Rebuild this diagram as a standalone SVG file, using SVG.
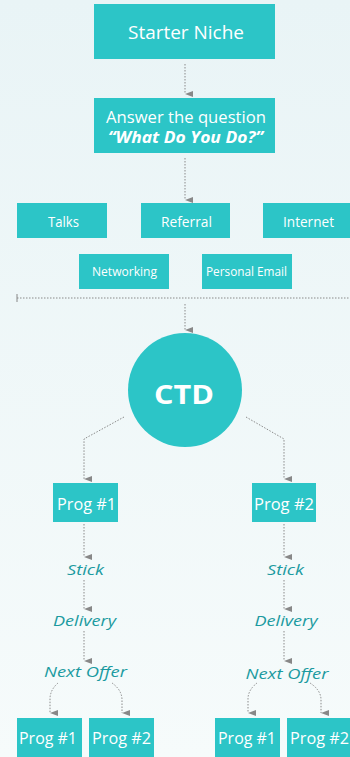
<svg xmlns="http://www.w3.org/2000/svg" width="350" height="757" viewBox="0 0 350 757">
<defs>
<linearGradient id="bg" x1="0" y1="0" x2="0" y2="1">
<stop offset="0" stop-color="#e9f4f6"/>
<stop offset="1" stop-color="#f6fbfb"/>
</linearGradient>
<marker id="ah" markerUnits="userSpaceOnUse" markerWidth="6" markerHeight="8" viewBox="0 0 6 8" refX="3" refY="8" orient="auto-start-reverse">
<path d="M0,0 L6,0 L3,8 Z" fill="#888"/>
</marker>
<style>
.box{fill:#2cc5c7}
.t{font-family:"Open Sans","Liberation Sans",sans-serif;fill:#fff;text-anchor:middle}
.it{font-family:"Open Sans","Liberation Sans",sans-serif;fill:#1b9aa0;font-style:italic;text-anchor:middle;font-size:15px}
.c{fill:none;stroke:#8a8a8a;stroke-width:1;stroke-dasharray:1.5 1.5}
.ca{fill:none;stroke:#8a8a8a;stroke-width:1;stroke-dasharray:1.5 1.5;marker-end:url(#ah)}
</style>
</defs>
<rect width="350" height="757" fill="url(#bg)"/>
<g id="connectors">
<path class="ca" d="M185,64 V94"/>
<path class="ca" d="M185,158 V200"/>
<path class="c" d="M17,298 H350"/>
<path d="M17,294 V302" stroke="#888" stroke-width="1"/>
<path class="ca" d="M185,304 V330"/>
<path class="ca" d="M124,417 L84,439 V479"/>
<path class="ca" d="M246,417 L284,439 V479"/>
<path class="ca" d="M84,524 V557"/>
<path class="ca" d="M84,580 V609"/>
<path class="ca" d="M84,631 V661"/>
<path class="ca" d="M284,524 V557"/>
<path class="ca" d="M284,580 V609"/>
<path class="ca" d="M284,631 V661"/>
<path class="ca" d="M58,683 Q50,690 50,699 V713"/>
<path class="ca" d="M112,683 Q122,690 122,700 V713"/>
<path class="ca" d="M257,683 Q248,690 248,699 V713"/>
<path class="ca" d="M310,683 Q321,690 321,700 V713"/>
</g>
<g id="starter-niche"><rect class="box" x="94" y="4" width="181" height="55"/><text class="t" x="186" y="39" font-size="18" textLength="116" lengthAdjust="spacingAndGlyphs">Starter Niche</text></g>
<g id="answer"><rect class="box" x="94" y="98" width="181" height="55"/><text class="t" x="186" y="123" font-size="15.5" textLength="160" lengthAdjust="spacingAndGlyphs">Answer the question</text><text class="t" x="185.5" y="143" font-size="15.5" font-weight="bold" font-style="italic" textLength="155" lengthAdjust="spacingAndGlyphs">“What Do You Do?”</text></g>
<g id="talks"><rect class="box" x="17" y="203" width="90" height="35"/><text class="t" x="63.5" y="227" font-size="14" textLength="31" lengthAdjust="spacingAndGlyphs">Talks</text></g>
<g id="referral"><rect class="box" x="141" y="203" width="89" height="35"/><text class="t" x="186.5" y="227" font-size="14" textLength="51" lengthAdjust="spacingAndGlyphs">Referral</text></g>
<g id="internet"><rect class="box" x="263" y="203" width="90" height="35"/><text class="t" x="308.5" y="227" font-size="14" textLength="51" lengthAdjust="spacingAndGlyphs">Internet</text></g>
<g id="networking"><rect class="box" x="79" y="254" width="90" height="35"/><text class="t" x="124.5" y="276" font-size="12" textLength="65" lengthAdjust="spacingAndGlyphs">Networking</text></g>
<g id="personal-email"><rect class="box" x="202" y="254" width="90" height="35"/><text class="t" x="246.5" y="276" font-size="12" textLength="81" lengthAdjust="spacingAndGlyphs">Personal Email</text></g>
<g id="ctd"><circle class="box" cx="185" cy="390" r="57"/><text class="t" x="184" y="404" font-size="27" font-weight="bold" textLength="60" lengthAdjust="spacingAndGlyphs">CTD</text></g>
<g id="prog1"><rect class="box" x="53" y="483" width="65" height="39"/><text class="t" x="86.5" y="510" font-size="16" textLength="59" lengthAdjust="spacingAndGlyphs">Prog #1</text></g>
<g id="prog2"><rect class="box" x="252" y="483" width="64" height="39"/><text class="t" x="284" y="510" font-size="16" textLength="60" lengthAdjust="spacingAndGlyphs">Prog #2</text></g>
<g id="stick1"><text class="it" x="85.5" y="575" textLength="37" lengthAdjust="spacingAndGlyphs">Stick</text></g>
<g id="delivery1"><text class="it" x="84.5" y="626" textLength="63" lengthAdjust="spacingAndGlyphs">Delivery</text></g>
<g id="nextoffer1"><text class="it" x="85.5" y="677" textLength="83" lengthAdjust="spacingAndGlyphs">Next Offer</text></g>
<g id="stick2"><text class="it" x="285.5" y="575" textLength="37" lengthAdjust="spacingAndGlyphs">Stick</text></g>
<g id="delivery2"><text class="it" x="286" y="626" textLength="63" lengthAdjust="spacingAndGlyphs">Delivery</text></g>
<g id="nextoffer2"><text class="it" x="287" y="679" textLength="83" lengthAdjust="spacingAndGlyphs">Next Offer</text></g>
<g id="prog1a"><rect class="box" x="17" y="718" width="65" height="40"/><text class="t" x="48" y="744" font-size="16" textLength="58" lengthAdjust="spacingAndGlyphs">Prog #1</text></g>
<g id="prog1b"><rect class="box" x="89" y="718" width="65" height="40"/><text class="t" x="121.5" y="744" font-size="16" textLength="59" lengthAdjust="spacingAndGlyphs">Prog #2</text></g>
<g id="prog2a"><rect class="box" x="215" y="718" width="65" height="40"/><text class="t" x="247" y="744" font-size="16" textLength="58" lengthAdjust="spacingAndGlyphs">Prog #1</text></g>
<g id="prog2b"><rect class="box" x="287" y="718" width="65" height="40"/><text class="t" x="319.5" y="744" font-size="16" textLength="59" lengthAdjust="spacingAndGlyphs">Prog #2</text></g>
</svg>
